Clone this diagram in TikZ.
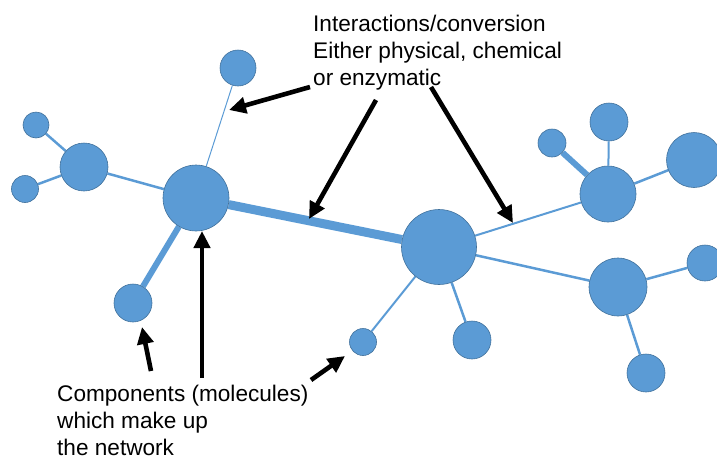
\documentclass[tikz,border=0pt]{standalone}
\usepackage{fontspec}
\setmainfont{Liberation Sans}
\usetikzlibrary{arrows.meta, backgrounds}
\definecolor{netBlue}{HTML}{5B9BD5}
\definecolor{netRim}{HTML}{41719C}

\begin{document}
\begin{tikzpicture}[x=1pt, y=-1pt,
  mol/.style={circle, fill=netBlue, draw=netRim, line width=0.6pt, inner sep=0pt, minimum size=#1},
  link/.style={draw=netBlue, line width=#1},
  callout/.style={line width=4.6pt, -{Triangle[length=17pt, width=16pt]}},
  lbl/.style={font=\fontsize{22.6}{27}\selectfont, align=left, anchor=north west, inner sep=0pt}]
  \useasboundingbox (0,0) rectangle (717,459);
  % molecules, left part
  \node[mol=36] (mTop) at (238,68) {};
  \node[mol=26] (mLU) at (36,125) {};
  \node[mol=27] (mLD) at (25,189) {};
  \node[mol=48] (mL) at (84,167) {};
  \node[mol=66] (hubL) at (196,198) {};
  \node[mol=38] (mLB) at (133,303) {};
  % molecules, middle
  \node[mol=75] (hubM) at (439,247) {};
  \node[mol=27] (mMB1) at (363,342) {};
  \node[mol=38] (mMB2) at (472,340) {};
  % molecules, right part
  \node[mol=56] (hubRU) at (608,194) {};
  \node[mol=28] (mRUL) at (552,143) {};
  \node[mol=38] (mRUT) at (609,122) {};
  \node[mol=55] (mRUR) at (694,160) {};
  \node[mol=58] (hubRD) at (618,287) {};
  \node[mol=36] (mRDR) at (705,263) {};
  \node[mol=38] (mRDB) at (646,373) {};
  % interactions
  \begin{scope}[on background layer]
    \draw[link=1pt] (mTop) -- (hubL);
    \draw[link=2.5pt] (mLU) -- (mL);
    \draw[link=2.5pt] (mLD) -- (mL);
    \draw[link=2.5pt] (mL) -- (hubL);
    \draw[link=6pt] (hubL) -- (mLB);
    \draw[link=9pt] (hubL) -- (hubM);
    \draw[link=2pt] (hubM) -- (hubRU);
    \draw[link=2.5pt] (hubM) -- (hubRD);
    \draw[link=2pt] (hubM) -- (mMB1);
    \draw[link=2.5pt] (hubM) -- (mMB2);
    \draw[link=6pt] (hubRU) -- (mRUL);
    \draw[link=2pt] (hubRU) -- (mRUT);
    \draw[link=2.5pt] (hubRU) -- (mRUR);
    \draw[link=2.5pt] (hubRD) -- (mRDR);
    \draw[link=2.5pt] (hubRD) -- (mRDB);
  \end{scope}
  % labels
  \node[lbl] (txtTop) at (313,15) {Interactions/conversion\\Either physical, chemical\\or enzymatic};
  \node[lbl] (txtBot) at (57,385) {Components (molecules)\\which make up\\the network};
  % callout arrows
  \coordinate (a1s) at (310,87);   \coordinate (a1e) at (229,110);
  \coordinate (a2s) at (376,100);  \coordinate (a2e) at (309,219);
  \coordinate (a3s) at (431,87);   \coordinate (a3e) at (513,223);
  \coordinate (a4s) at (202,378);  \coordinate (a4e) at (202,231);
  \coordinate (a5s) at (151,371);  \coordinate (a5e) at (142,327);
  \coordinate (a6s) at (311,380);  \coordinate (a6e) at (345,356);
  \draw[callout] (a1s) -- (a1e);
  \draw[callout] (a2s) -- (a2e);
  \draw[callout] (a3s) -- (a3e);
  \draw[callout] (a4s) -- (a4e);
  \draw[callout] (a5s) -- (a5e);
  \draw[callout] (a6s) -- (a6e);
\end{tikzpicture}
\end{document}
